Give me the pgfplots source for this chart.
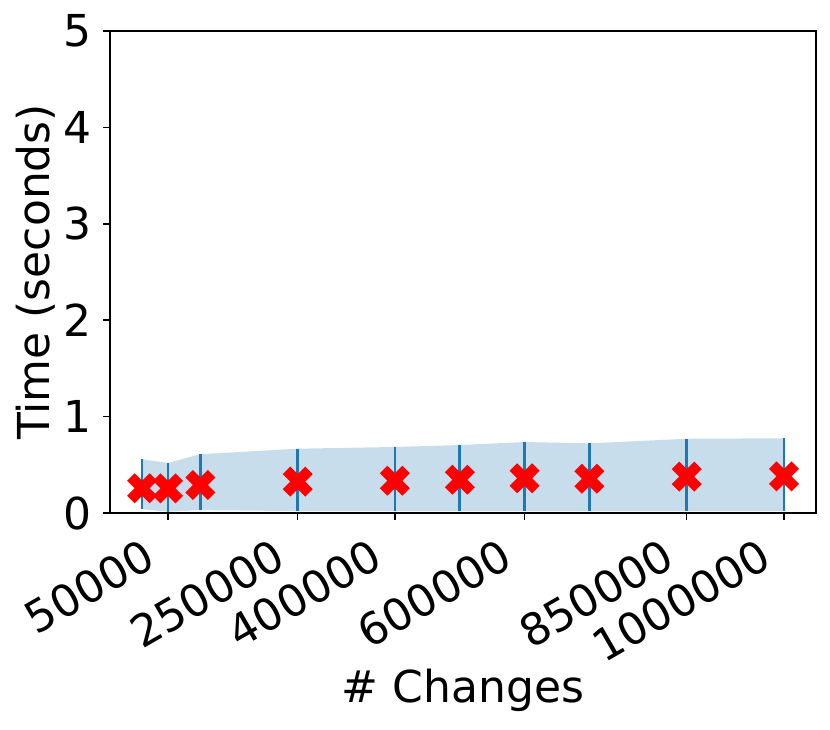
\documentclass[border=0pt]{standalone}
\usepackage{fontspec}
\setmainfont{DejaVu Sans}
\usepackage{pgfplots}
\usepackage{pgfplotstable}
\pgfplotsset{compat=1.18}
\usepgfplotslibrary{fillbetween}
\definecolor{tabblue}{RGB}{31,119,180}
\definecolor{bandblue}{RGB}{199,221,236}
\newcommand{\lbl}{\fontsize{22pt}{26pt}\selectfont}

% filled "X" marker like matplotlib's 'X'
\pgfdeclareplotmark{Xfill}{%
  \pgfpathmoveto{\pgfpoint{-0.5\pgfplotmarksize}{-\pgfplotmarksize}}%
  \pgfpathlineto{\pgfpoint{0pt}{-0.5\pgfplotmarksize}}%
  \pgfpathlineto{\pgfpoint{0.5\pgfplotmarksize}{-\pgfplotmarksize}}%
  \pgfpathlineto{\pgfpoint{\pgfplotmarksize}{-0.5\pgfplotmarksize}}%
  \pgfpathlineto{\pgfpoint{0.5\pgfplotmarksize}{0pt}}%
  \pgfpathlineto{\pgfpoint{\pgfplotmarksize}{0.5\pgfplotmarksize}}%
  \pgfpathlineto{\pgfpoint{0.5\pgfplotmarksize}{\pgfplotmarksize}}%
  \pgfpathlineto{\pgfpoint{0pt}{0.5\pgfplotmarksize}}%
  \pgfpathlineto{\pgfpoint{-0.5\pgfplotmarksize}{\pgfplotmarksize}}%
  \pgfpathlineto{\pgfpoint{-\pgfplotmarksize}{0.5\pgfplotmarksize}}%
  \pgfpathlineto{\pgfpoint{-0.5\pgfplotmarksize}{0pt}}%
  \pgfpathlineto{\pgfpoint{-\pgfplotmarksize}{-0.5\pgfplotmarksize}}%
  \pgfpathclose
  \pgfusepathqfill}

% changes, mean time, lower and upper bound (seconds)
\pgfplotstableread{
x y lo hi
10000 0.256 0.040 0.557
50000 0.256 0.014 0.520
100000 0.290 0.030 0.610
250000 0.325 0.020 0.667
400000 0.335 0.020 0.685
500000 0.345 0.020 0.705
600000 0.360 0.020 0.736
700000 0.356 0.020 0.723
850000 0.377 0.020 0.770
1000000 0.380 0.020 0.775
}\timing

\begin{document}
\begin{tikzpicture}
\begin{axis}[
    at={(0,0)}, anchor=south west,
    scale only axis,
    width=353pt, height=241pt,
    xmin=-39500, xmax=1049500,
    ymin=0, ymax=5,
    xtick={50000,250000,400000,600000,850000,1000000},
    xticklabels={50000,250000,400000,600000,850000,1000000},
    scaled x ticks=false,
    ytick={0,1,2,3,4,5},
    tick align=outside,
    xtick pos=bottom, ytick pos=left,
    major tick length=3.5pt,
    tick style={black, line width=0.8pt},
    axis line style={black, line width=0.8pt},
    /pgf/number format/assume math mode=true,
    ticklabel style={font=\lbl},
    xticklabel style={inner sep=0pt, anchor=north east, xshift=-13pt, yshift=-8.5pt, rotate=30},
    yticklabel style={inner sep=0pt, xshift=-5.5pt},
    xlabel={\# Changes},
    ylabel={Time (seconds)},
    label style={font=\lbl},
    xlabel style={at={(axis description cs:0.5,-0.394)}, anchor=base},
    ylabel style={at={(axis description cs:-0.085,0.5)}, anchor=base},
]

\addplot[name path=lo, draw=none, forget plot] table[x=x, y=lo] {\timing};
\addplot[name path=hi, draw=none, forget plot] table[x=x, y=hi] {\timing};
\addplot[fill=bandblue, draw=none, forget plot] fill between[of=hi and lo];

% vertical range bars
\addplot[draw=none, forget plot,
    error bars/.cd, y dir=both, y explicit,
    error mark=none,
    error bar style={draw=tabblue, line width=1.4pt}]
    table[x=x, y=y,
          y error plus expr=\thisrow{hi}-\thisrow{y},
          y error minus expr=\thisrow{y}-\thisrow{lo}] {\timing};

% mean time
\addplot[only marks, mark=Xfill, mark size=7.5pt, color=red]
    table[x=x, y=y] {\timing};

\end{axis}
\pgfresetboundingbox
\path[use as bounding box] (-55pt,-108pt) rectangle (360pt,256.5pt);
\end{tikzpicture}
\end{document}
